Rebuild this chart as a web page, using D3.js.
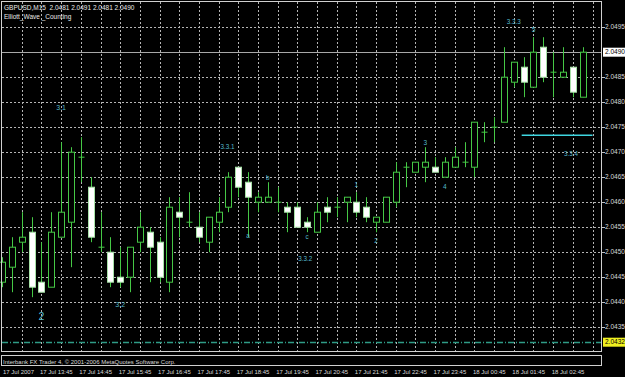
<!DOCTYPE html>
<html><head><meta charset="utf-8">
<script src="https://cdn.jsdelivr.net/npm/d3@7"></script>
<style>html,body{margin:0;padding:0;background:#000;overflow:hidden}svg{display:block}</style>
</head><body>
<script>
// ---- data ----
const openP  = [2.0444,2.0447,2.0452,2.0454,2.0444,2.0443,2.0453,2.0456,2.0469,2.0463,
                2.0451,2.0450,2.0445,2.0445,2.0452,2.0454,2.0452,2.0444,2.0458,2.0456,
                2.0455,2.0452,2.0456,2.0459,2.0467,2.0464,2.0460,2.0460,2.0460,2.0459,
                2.0459,2.0456,2.0454,2.0459,2.0459,2.0460,2.0460,2.0459,2.0456,2.0456,
                2.0460,2.0467,2.0466,2.0467,2.0467,2.0465,2.0467,2.0468,2.0467,2.0474,
                2.0475,2.0476,2.0484,2.0487,2.0483,2.0491,2.0486,2.0485,2.0487,2.0481];
const highP  = [2.0449,2.0453,2.0458,2.0457,2.0452,2.0458,2.0472,2.0471,2.0473,2.0465,
                2.0458,2.0453,2.0451,2.0451,2.0458,2.0455,2.0453,2.0461,2.0461,2.0462,
                2.0458,2.0457,2.0461,2.0466,2.0467,2.0466,2.0462,2.0464,2.0463,2.0460,
                2.0460,2.0457,2.0460,2.0461,2.0461,2.0461,2.0462,2.0461,2.0457,2.0461,
                2.0468,2.0468,2.0468,2.0471,2.0469,2.0469,2.0471,2.0472,2.0476,2.0476,
                2.0477,2.0491,2.0488,2.0489,2.0493,2.0493,2.0490,2.0491,2.0487,2.0491];
const lowP   = [2.0443,2.0442,2.0450,2.0441,2.0442,2.0443,2.0453,2.0447,2.0464,2.0452,
                2.0450,2.0443,2.0443,2.0442,2.0450,2.0444,2.0444,2.0442,2.0453,2.0455,
                2.0452,2.0450,2.0454,2.0458,2.0461,2.0453,2.0458,2.0460,2.0458,2.0454,
                2.0455,2.0454,2.0454,2.0456,2.0457,2.0456,2.0457,2.0456,2.0454,2.0456,
                2.0459,2.0463,2.0466,2.0464,2.0466,2.0465,2.0467,2.0467,2.0465,2.0472,
                2.0472,2.0476,2.0483,2.0481,2.0483,2.0484,2.0481,2.0485,2.0481,2.0481];
const closeP = [2.0448,2.0451,2.0453,2.0443,2.0442,2.0454,2.0458,2.0470,2.0469,2.0453,
                2.0451,2.0444,2.0444,2.0451,2.0455,2.0451,2.0445,2.0459,2.0457,2.0456,
                2.0453,2.0457,2.0458,2.0465,2.0463,2.0461,2.0461,2.0461,2.0460,2.0458,
                2.0455,2.0455,2.0458,2.0458,2.0459,2.0461,2.0458,2.0457,2.0457,2.0461,
                2.0466,2.0467,2.0468,2.0468,2.0466,2.0468,2.0469,2.0468,2.0476,2.0474,
                2.0475,2.0485,2.0488,2.0484,2.0490,2.0485,2.0486,2.0486,2.0482,2.0490];
const timeLabels = ["17 Jul 2007","17 Jul 13:45","17 Jul 14:45","17 Jul 15:45","17 Jul 16:45",
                    "17 Jul 17:45","17 Jul 18:45","17 Jul 19:45","17 Jul 20:45","17 Jul 21:45",
                    "17 Jul 22:45","17 Jul 23:45","18 Jul 00:45","18 Jul 01:45","18 Jul 02:45"];
const timeLabelBars = [0,4,8,12,16,20,24,28,32,36,40,44,48,52,56];
const priceTicks = [2.0435,2.0440,2.0445,2.0450,2.0455,2.0460,2.0465,2.0470,2.0475,2.0480,2.0485,2.0495];
const bidPrice = 2.0490;
const levelPrice = 2.0432;
const waveText  = ["3.1","2","3.2","3.3.1","a","b","c","3.3.2","1","2","3","4","3.3.3","5","3.3.4"];
const waveBar   = [6,4,12,22.9,25,27,31,30.8,36,38,43,45,52,54,57.8];
const wavePrice = [2.04790,2.04371,2.04395,2.04711,2.04533,2.04648,2.04531,2.04486,2.04634,2.04523,2.04718,2.04631,2.04961,2.04944,2.04696];
const waveSize  = [7,10.5,7,6.3,6.3,6.3,6.3,6.3,6.5,6.5,6.5,6.5,6.3,6.5,6.3];
const segBars = [52.8, 60];
const segPrice = 2.04734;

// ---- layout ----
const W = 625, H = 377;
const svg = d3.select("body").append("svg").attr("width", W).attr("height", H);
svg.append("rect").attr("width", W).attr("height", H).attr("fill", "#000");

const x = d3.scaleLinear().domain([0, 59]).range([2.1, 582.7]);
const y = d3.scaleLinear().domain([2.0435, 2.0495]).range([327.2, 27.2]);
const font = "'Liberation Sans', Arial, sans-serif";
const gridC = "#b4b4b4";

// grid
const g = svg.append("g");
const vBars = d3.range(2, 61, 2);
g.selectAll("line.v").data(vBars).join("line")
  .attr("x1", d => Math.round(x(d)) + 0.5).attr("x2", d => Math.round(x(d)) + 0.5)
  .attr("y1", 2).attr("y2", 351)
  .attr("stroke", gridC).attr("stroke-dasharray", "2,2");
const gridPrices = d3.range(2.0435, 2.04951, 0.0005);
g.selectAll("line.h").data(gridPrices).join("line")
  .attr("x1", 2).attr("x2", 601)
  .attr("y1", d => Math.round(y(d)) + 0.5).attr("y2", d => Math.round(y(d)) + 0.5)
  .attr("stroke", gridC).attr("stroke-dasharray", "2,2");

// bid line
svg.append("line").attr("x1", 2).attr("x2", 601)
  .attr("y1", Math.round(y(bidPrice)) + 0.5).attr("y2", Math.round(y(bidPrice)) + 0.5)
  .attr("stroke", "#a8a8a8");

// level dash-dot line
svg.append("line").attr("x1", 2).attr("x2", 601)
  .attr("y1", Math.round(y(levelPrice)) + 0.5).attr("y2", Math.round(y(levelPrice)) + 0.5)
  .attr("stroke", "#2f9c86").attr("stroke-width", 1.3).attr("stroke-dasharray", "6,2,1,2");

// candles
const data = openP.map((o, i) => ({i, o, h: highP[i], l: lowP[i], c: closeP[i]}));
const green = "#45c845";
const cg = svg.append("g");
data.forEach(d => {
  const cx = Math.round(x(d.i)) + 0.5;
  cg.append("line").attr("x1", cx).attr("x2", cx).attr("y1", y(d.h)).attr("y2", y(d.l))
    .attr("stroke", green).attr("stroke-width", 1);
  const top = y(Math.max(d.o, d.c)), bot = y(Math.min(d.o, d.c));
  if (Math.abs(d.o - d.c) < 1e-7) {
    cg.append("line").attr("x1", cx - 3).attr("x2", cx + 3).attr("y1", top).attr("y2", top)
      .attr("stroke", green);
  } else {
    cg.append("rect").attr("x", cx - 3).attr("y", top).attr("width", 6).attr("height", bot - top)
      .attr("fill", d.c > d.o ? "#000" : "#fff").attr("stroke", d.c > d.o ? green : "#a6e0a6")
      .attr("stroke-width", 1);
  }
});

// cyan segment
svg.append("line").attr("x1", x(segBars[0])).attr("x2", x(segBars[1]))
  .attr("y1", y(segPrice)).attr("y2", y(segPrice))
  .attr("stroke", "#3fd6e0").attr("stroke-width", 1.6);

// wave labels
svg.append("g").selectAll("text").data(waveText).join("text")
  .attr("x", (d, k) => x(waveBar[k])).attr("y", (d, k) => y(wavePrice[k]))
  .attr("dy", "0.35em").attr("text-anchor", "middle")
  .attr("font-family", font).attr("font-size", (d, k) => waveSize[k])
  .attr("fill", "#55b8cc").text(d => d);

// frames
svg.append("rect").attr("x", 1.5).attr("y", 1.5).attr("width", 600).attr("height", 350)
  .attr("fill", "none").attr("stroke", "#d0d0d0");
svg.append("rect").attr("x", 1.5).attr("y", 355.5).attr("width", 600).attr("height", 10)
  .attr("fill", "none").attr("stroke", "#d0d0d0");
svg.append("text").attr("x", 3).attr("y", 363.5).attr("font-family", font).attr("font-size", 6)
  .attr("fill", "#d8d8d8").text("Interbank FX Trader 4, © 2001-2006 MetaQuotes Software Corp.");

// right axis labels
const ra = svg.append("g");
ra.selectAll("line").data(priceTicks).join("line")
  .attr("x1", 602).attr("x2", 605)
  .attr("y1", d => Math.round(y(d)) + 0.5).attr("y2", d => Math.round(y(d)) + 0.5)
  .attr("stroke", "#c0c0c0");
ra.selectAll("text").data(priceTicks).join("text")
  .attr("x", 605).attr("y", d => y(d)).attr("dy", "0.35em")
  .attr("font-family", font).attr("font-size", 6.5).attr("fill", "#d8d8d8")
  .text(d => d.toFixed(4));
// bid box
svg.append("rect").attr("x", 603).attr("y", y(bidPrice) - 4.5).attr("width", 22).attr("height", 9).attr("fill", "#fff");
svg.append("text").attr("x", 605).attr("y", y(bidPrice)).attr("dy", "0.35em")
  .attr("font-family", font).attr("font-size", 6.5).attr("fill", "#000").text(bidPrice.toFixed(4));
// level box
svg.append("rect").attr("x", 603).attr("y", y(levelPrice) - 4.5).attr("width", 22).attr("height", 9).attr("fill", "#f0f020");
svg.append("text").attr("x", 605).attr("y", y(levelPrice)).attr("dy", "0.35em")
  .attr("font-family", font).attr("font-size", 6.5).attr("fill", "#000").text(levelPrice.toFixed(4));

// time labels
svg.append("g").selectAll("text").data(timeLabels).join("text")
  .attr("x", (d, k) => k === 0 ? 3 : x(timeLabelBars[k]) - 1.5).attr("y", 374)
  .attr("font-family", font).attr("font-size", 6).attr("fill", "#d8d8d8").text(d => d);

// title
svg.append("text").attr("x", 4).attr("y", 10).attr("font-family", font).attr("font-size", 6.5)
  .attr("fill", "#e8e8e8").attr("xml:space", "preserve").text("GBPUSD,M15  2.0481 2.0491 2.0481 2.0490");
svg.append("text").attr("x", 4).attr("y", 18.5).attr("font-family", font).attr("font-size", 6.5)
  .attr("fill", "#e8e8e8").text("Elliott_Wave _Counting");
</script>
</body></html>
